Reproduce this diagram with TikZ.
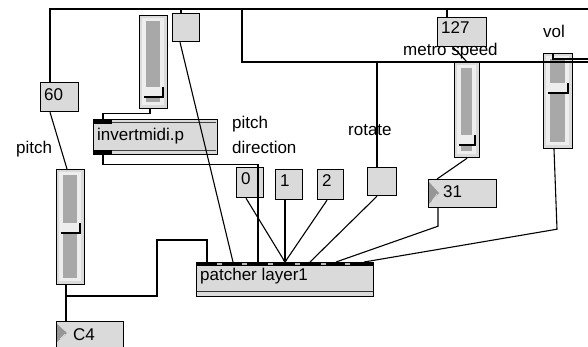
\documentclass[tikz,border=0pt]{standalone}
\usepackage{fontspec}
\setmainfont{Liberation Sans}
\definecolor{boxgray}{RGB}{218,218,218}
\definecolor{trackgray}{RGB}{168,168,168}
\definecolor{bevel}{RGB}{238,238,238}
\definecolor{tri}{RGB}{150,150,150}
\tikzset{
  cord/.style={draw=black, line width=1.1pt},
  objbox/.style={draw=black, fill=boxgray, line width=1.2pt, inner sep=0pt, anchor=north west},
  lbl/.style={anchor=base west, inner sep=0pt, font=\fontsize{17}{20}\selectfont},
}
% a vertical slider: name, left, top, width, height, thumb top
\newcommand\maxslider[6]{%
  \node[objbox, minimum width=#4, minimum height=#5] (#1) at (#2,#3) {};
  \fill[bevel] (#2+3,#3+3) rectangle (#2+#4-3,#3+#5-3);
  \fill[trackgray] (#2+7,#3+6) rectangle (#2+#4-7,#3+#5-6);
  \fill[bevel] (#2+5,#6) rectangle (#2+#4-4,#6+10);
  \draw[line width=1.1pt] (#2+5,#6+10) -- (#2+#4-4,#6+10) -- (#2+#4-4,#6);
}
% number box arrow on the left edge: left, top, height
\newcommand\numarrow[3]{%
  \fill[tri] (#1+1,#2+3) -- (#1+11,#2+#3/2) -- (#1+1,#2+#3-3) -- cycle;
  \draw[white!80!gray, line width=0.6pt] (#1+4,#2+#3-6) -- (#1+9,#2+#3/2+1);
}
\begin{document}
\begin{tikzpicture}[x=1pt, y=-1pt]
\useasboundingbox (0,0) rectangle (588,346);
\fill[white] (0,0) rectangle (588,346);

% ---- objects ----
\node[objbox, minimum width=38, minimum height=29] (n60) at (40,82) {};
\node[lbl] (t60) at (44,100) {60};

\node[objbox, minimum width=27, minimum height=28] (sq1) at (172,13) {};

\maxslider{slA}{139}{15}{28}{93}{87}

\node[objbox, minimum width=124, minimum height=35] (inv) at (93,119) {};
\draw[black!75, line width=1pt] (94,122.5) -- (216,122.5);
\draw[black!75, line width=1pt] (94,150.5) -- (216,150.5);
\fill[black] (94,119) rectangle (112,123.5);
\fill[black] (94,149.5) rectangle (112,154);
\node[lbl] (tinv) at (97,140) {invertmidi.p};

\node[lbl] (tpitchR) at (232,128) {pitch};
\node[lbl] (tdir) at (232,153) {direction};
\node[lbl] (tpitchL) at (16,153) {pitch};

\maxslider{slB}{56}{169}{28}{115}{223}

\node[objbox, minimum width=67, minimum height=30] (nC4) at (56,321) {};
\numarrow{56}{321}{24}
\node[lbl] (tC4) at (73,340) {C4};

\node[objbox, minimum width=27, minimum height=30] (b0) at (236,167) {};
\node[lbl] (t0) at (241,184) {0};
\node[objbox, minimum width=27, minimum height=30] (b1) at (275,169) {};
\node[lbl] (t1) at (280,186) {1};
\node[objbox, minimum width=26, minimum height=30] (b2) at (317,169) {};
\node[lbl] (t2) at (322,186) {2};

\node[objbox, minimum width=29, minimum height=28] (rot) at (367,167) {};
\node[lbl] (trot) at (348,135) {rotate};

\node[objbox, minimum width=49, minimum height=29] (n127) at (437,17) {};
\node[lbl] (t127) at (441,33) {127};
\node[lbl] (tmetro) at (403,55) {metro speed};

\maxslider{slC}{454}{62}{25}{95}{135}

\node[objbox, minimum width=68, minimum height=28] (n31) at (428,179) {};
\numarrow{428}{179}{28}
\node[lbl] (t31) at (443,197) {31};

\node[lbl] (tvol) at (543,37) {vol};
\maxslider{slD}{543}{53}{29}{95}{83}

\node[objbox, minimum width=177, minimum height=34] (pat) at (196,262) {};
\fill[black] (196,262) rectangle (373,266);
\foreach \u in {219,244,270,297,323,347} \fill[gray!55] (\u-2.5,263.3) rectangle (\u+2.5,264.8);
\draw[black!80, line width=1pt] (196.5,291.5) -- (372.5,291.5);
\node[lbl] (tpat) at (200,280) {patcher layer1};

% ---- free ends at the right edge ----
\coordinate (topR) at (588,9);
\coordinate (midR) at (588,62);
\coordinate (volR) at (588,59);
\coordinate (j1) at (242,9);
\coordinate (jB) at (66,296);
\coordinate (pin) at ([xshift=89pt]pat.north west);

% ---- patch cords ----
\draw[cord] ([xshift=10pt]n60.north west) |- (topR);
\draw[cord] ([xshift=9pt]sq1.north west) -- ([xshift=9pt]sq1.north west |- topR);
\draw[cord] (j1) |- (midR);
\draw[cord] ([xshift=10pt]n127.north west) -- ([xshift=10pt]n127.north west |- topR);
\draw[cord] ([xshift=10pt]rot.north west) -- ([xshift=10pt]rot.north west |- midR);
\draw[cord] ([xshift=10pt]slD.north west) |- (volR);

\draw[cord] ([xshift=16pt]n127.south west) -- (slC.north);
\draw[cord] (slC.south) -- ([xshift=9pt]n31.north west);

\draw[cord] ([xshift=11pt]slA.south west) -- ++(0,4) -| ([xshift=10pt]inv.north west);
\draw[cord] ([xshift=10pt]inv.south west) -- ++(0,9) -| ([xshift=62pt]pat.north west);
\draw[cord] ([xshift=8pt]sq1.south west) -- ([xshift=37pt]pat.north west);

\draw[cord] ([xshift=10pt]n60.south west) -- ([xshift=11pt]slB.north west);
\draw[cord] ([xshift=10pt]slB.south west) -- ([xshift=10pt]nC4.north west);
\draw[cord] (jB) -- ++(91,0) -- ++(0,-56) -| ([xshift=11pt]pat.north west);

\draw[cord] ([xshift=10pt]b0.south west) -- (pin);
\draw[cord] ([xshift=10pt]b1.south west) -- (pin);
\draw[cord] ([xshift=10pt]b2.south west) -- (pin);
\fill[black] ([yshift=1.5pt]pin) circle (1.8pt);
\draw[cord] ([xshift=10pt]rot.south west) -- ([xshift=114pt]pat.north west);
\draw[cord] ([xshift=10pt]n31.south west) -- ++(0,18) -- ([xshift=140pt]pat.north west);
\draw[cord] ([xshift=11pt]slD.south west) -- ++(3,80) -- ([xshift=168pt]pat.north west);
\end{tikzpicture}
\end{document}
